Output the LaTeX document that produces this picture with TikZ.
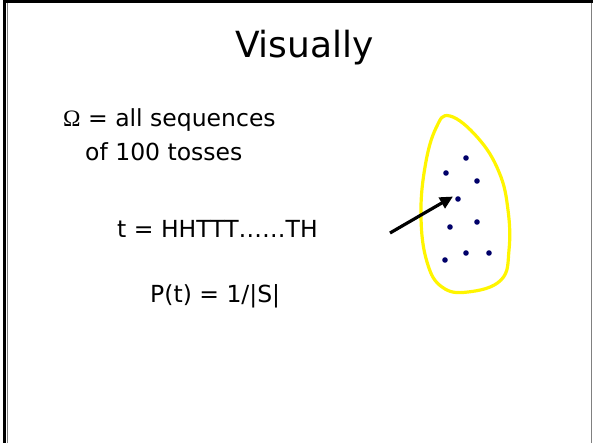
\documentclass[tikz,border=0pt]{standalone}
\usepackage{fontspec}
\setmainfont{DejaVu Sans}
\newfontfamily\omegafont{Liberation Serif}
\usetikzlibrary{arrows.meta}
\definecolor{dotblue}{RGB}{0,0,105}
\definecolor{blobyellow}{RGB}{255,245,0}
\tikzset{
  body/.style={anchor=base west, inner sep=0pt, font=\fontsize{23.5}{28}\selectfont},
  titletext/.style={anchor=base, inner sep=0pt, font=\fontsize{36}{42}\selectfont},
  pt/.style={circle, fill=dotblue, inner sep=0pt, minimum size=5.6pt},
  pointer/.style={line width=3.2pt, -{Triangle[length=13pt,width=12pt]}},
  blob/.style={blobyellow, line width=3.2pt}
}
\begin{document}
\begin{tikzpicture}[x=1pt,y=-1pt]
\useasboundingbox (0,0) rectangle (593,443);
% slide frame
\draw[line width=3pt] (4.5,0) -- (4.5,443);
\draw[line width=3pt] (3,2) -- (593,2);
\draw[gray, line width=0.8pt] (7.5,3) -- (7.5,443);
\draw[gray, line width=0.8pt] (591.5,3) -- (591.5,443);
% title
\node[titletext] (title) at (304.5,58) {Visually};
% texts
\node[body] (omega) at (63,127) {{\omegafont Ω} = all sequences};
\node[body] (tosses) at (85,161) {of 100 tosses};
\node[body] (seq) at (117,238) {t = HHTTT……TH};
\node[body] (prob) at (150,302) {P(t) = 1/|S|};
% blob
\draw[blob] plot[smooth cycle, tension=0.7] coordinates {
 (450,116) (478,138) (499,172) (508,210) (509,250) (501,280) (468,292) (442,287) (427,262) (421,217) (425,167) (436,128)};
% dots
\node[pt] (d1) at (466,158) {};
\node[pt] (d2) at (446,173) {};
\node[pt] (d3) at (477,181) {};
\node[pt] (d4) at (458,199) {};
\node[pt] (d5) at (450,227) {};
\node[pt] (d6) at (477,222) {};
\node[pt] (d7) at (445,260) {};
\node[pt] (d8) at (466,253) {};
\node[pt] (d9) at (489,253) {};
% arrow
\coordinate (tail) at (390,233);
\draw[pointer] (tail) -- ([xshift=-5pt,yshift=2.5pt]d4.center);
\end{tikzpicture}
\end{document}
